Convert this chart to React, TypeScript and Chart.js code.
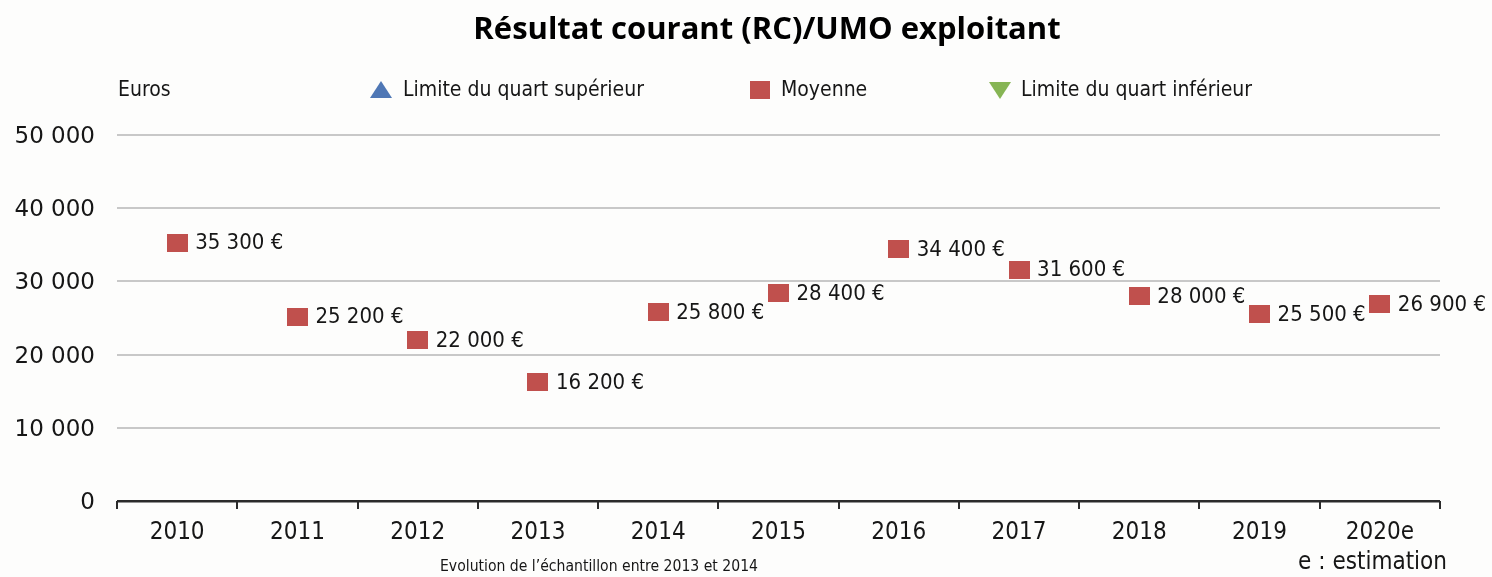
import React, { useEffect, useRef } from 'react';
import { Chart, registerables } from 'chart.js';

Chart.register(...registerables);

const TITLE = 'Résultat courant (RC)/UMO exploitant';
const UNIT_LABEL = 'Euros';
const CATEGORIES = ['2010', '2011', '2012', '2013', '2014', '2015', '2016', '2017', '2018', '2019', '2020e'];
const MOYENNE = [35300, 25200, 22000, 16200, 25800, 28400, 34400, 31600, 28000, 25500, 26900];
const QUART_SUP: (number | null)[] = [];
const QUART_INF: (number | null)[] = [];
const SERIES_NAMES = ['Limite du quart supérieur', 'Moyenne', 'Limite du quart inférieur'];
const Y_MIN = 0;
const Y_MAX = 50000;
const Y_STEP = 10000;
const FOOTNOTE = 'Evolution de l’échantillon entre 2013 et 2014';
const ESTIMATION_NOTE = 'e : estimation';

const RED = '#c0504d';
const BLUE = '#4f77b5';
const GREEN = '#86b554';
const TEXT = '#161616';
const NARROW = '"Liberation Sans Narrow", "DejaVu Sans Condensed", "Roboto Condensed", Roboto, sans-serif';
const WIDE = '"DejaVu Sans", Lato, sans-serif';

const fmt = (v: number) => String(Math.round(v)).replace(/\B(?=(\d{3})+(?!\d))/g, ' ');

function makeSquare(w: number, h: number, color: string) {
  const c = document.createElement('canvas');
  c.width = w;
  c.height = h;
  const g = c.getContext('2d')!;
  g.fillStyle = color;
  g.fillRect(0, 0, w, h);
  return c;
}

const decorPlugin = {
  id: 'decor',
  afterDraw(chart: any) {
    const ctx = chart.ctx as CanvasRenderingContext2D;
    ctx.save();
    // Title
    ctx.fillStyle = '#000';
    ctx.font = 'bold 31px "Open Sans", "Liberation Sans", sans-serif';
    ctx.textAlign = 'center';
    ctx.textBaseline = 'middle';
    ctx.fillText(TITLE, 767, 30);

    // Unit label
    ctx.font = `21px ${NARROW}`;
    ctx.textAlign = 'left';
    ctx.fillStyle = TEXT;
    ctx.fillText(UNIT_LABEL, 118, 91);

    // Legend
    const markerX = [370, 750, 989];
    const textX = [403, 781, 1021];
    const ds = chart.data.datasets;
    ds.forEach((d: any, i: number) => {
      const mx = markerX[i];
      const cy = 90;
      ctx.fillStyle = d.legendColor;
      ctx.beginPath();
      if (d.legendShape === 'up') {
        ctx.moveTo(mx + 11, cy - 9);
        ctx.lineTo(mx + 22, cy + 8);
        ctx.lineTo(mx, cy + 8);
        ctx.closePath();
        ctx.fill();
      } else if (d.legendShape === 'down') {
        ctx.moveTo(mx, cy - 8);
        ctx.lineTo(mx + 22, cy - 8);
        ctx.lineTo(mx + 11, cy + 9);
        ctx.closePath();
        ctx.fill();
      } else {
        ctx.fillRect(mx, cy - 9, 20, 18);
      }
      ctx.fillStyle = TEXT;
      ctx.font = `21px ${NARROW}`;
      ctx.textAlign = 'left';
      ctx.textBaseline = 'middle';
      ctx.fillText(d.label, textX[i], cy + 1);
    });

    // Data labels for Moyenne
    const idx = ds.findIndex((d: any) => d.label === 'Moyenne');
    const meta = chart.getDatasetMeta(idx);
    ctx.font = `22px ${NARROW}`;
    ctx.fillStyle = TEXT;
    ctx.textAlign = 'left';
    ctx.textBaseline = 'middle';
    meta.data.forEach((pt: any, i: number) => {
      const v = ds[idx].data[i];
      if (v == null) return;
      ctx.fillText(`${fmt(v)} €`, pt.x + 18, pt.y + 1);
    });

    // Footnotes
    ctx.font = `15.6px ${NARROW}`;
    ctx.textAlign = 'center';
    ctx.fillText(FOOTNOTE, 599, 567);
    ctx.font = `24px ${NARROW}`;
    ctx.textAlign = 'right';
    ctx.fillText(ESTIMATION_NOTE, 1447, 563);
    ctx.restore();
  },
};

export default function App() {
  const ref = useRef<HTMLCanvasElement | null>(null);
  useEffect(() => {
    document.body.style.margin = '0';
    const canvas = ref.current!;
    const square = makeSquare(21, 18, RED);
    const chart = new Chart(canvas, {
      type: 'line',
      data: {
        labels: CATEGORIES,
        datasets: [
          {
            label: SERIES_NAMES[0],
            data: QUART_SUP,
            showLine: false,
            pointStyle: 'triangle',
            backgroundColor: BLUE,
            borderColor: BLUE,
            legendColor: BLUE,
            legendShape: 'up',
          } as any,
          {
            label: SERIES_NAMES[1],
            data: MOYENNE,
            showLine: false,
            pointStyle: square,
            backgroundColor: RED,
            borderColor: RED,
            legendColor: RED,
            legendShape: 'square',
          } as any,
          {
            label: SERIES_NAMES[2],
            data: QUART_INF,
            showLine: false,
            pointStyle: 'triangle',
            pointRotation: 180,
            backgroundColor: GREEN,
            borderColor: GREEN,
            legendColor: GREEN,
            legendShape: 'down',
          } as any,
        ],
      },
      options: {
        responsive: false,
        animation: false,
        layout: { padding: { top: 135, right: 52, left: 0, bottom: 0 } },
        plugins: {
          legend: { display: false },
          title: { display: false },
          tooltip: { enabled: false },
        },
        scales: {
          x: {
            offset: true,
            border: { display: false },
            grid: {
              offset: true,
              drawOnChartArea: false,
              drawTicks: true,
              tickLength: 8,
              color: '#2b2b2b',
              lineWidth: 2,
            },
            ticks: {
              color: TEXT,
              font: { family: NARROW, size: 24 },
              padding: 9,
              maxRotation: 0,
            },
            afterFit: (s: any) => {
              s.height = 76;
            },
          },
          y: {
            min: Y_MIN,
            max: Y_MAX,
            border: { display: false },
            grid: {
              drawTicks: false,
              color: (c: any) => (c.tick && c.tick.value === 0 ? '#2b2b2b' : '#c8c8c8'),
              lineWidth: (c: any) => (c.tick && c.tick.value === 0 ? 2.5 : 2),
            },
            ticks: {
              stepSize: Y_STEP,
              color: TEXT,
              font: { family: WIDE, size: 23 },
              padding: 22,
              labelOffset: 2,
              callback: (v: any) => fmt(Number(v)),
            },
            afterFit: (s: any) => {
              s.width = 117;
            },
          },
        },
      },
      plugins: [decorPlugin],
    });
    return () => chart.destroy();
  }, []);
  return (
    <div style={{ width: 1492, height: 577, background: '#fdfdfc' }}>
      <canvas ref={ref} width={1492} height={577} style={{ display: 'block' }} />
    </div>
  );
}
